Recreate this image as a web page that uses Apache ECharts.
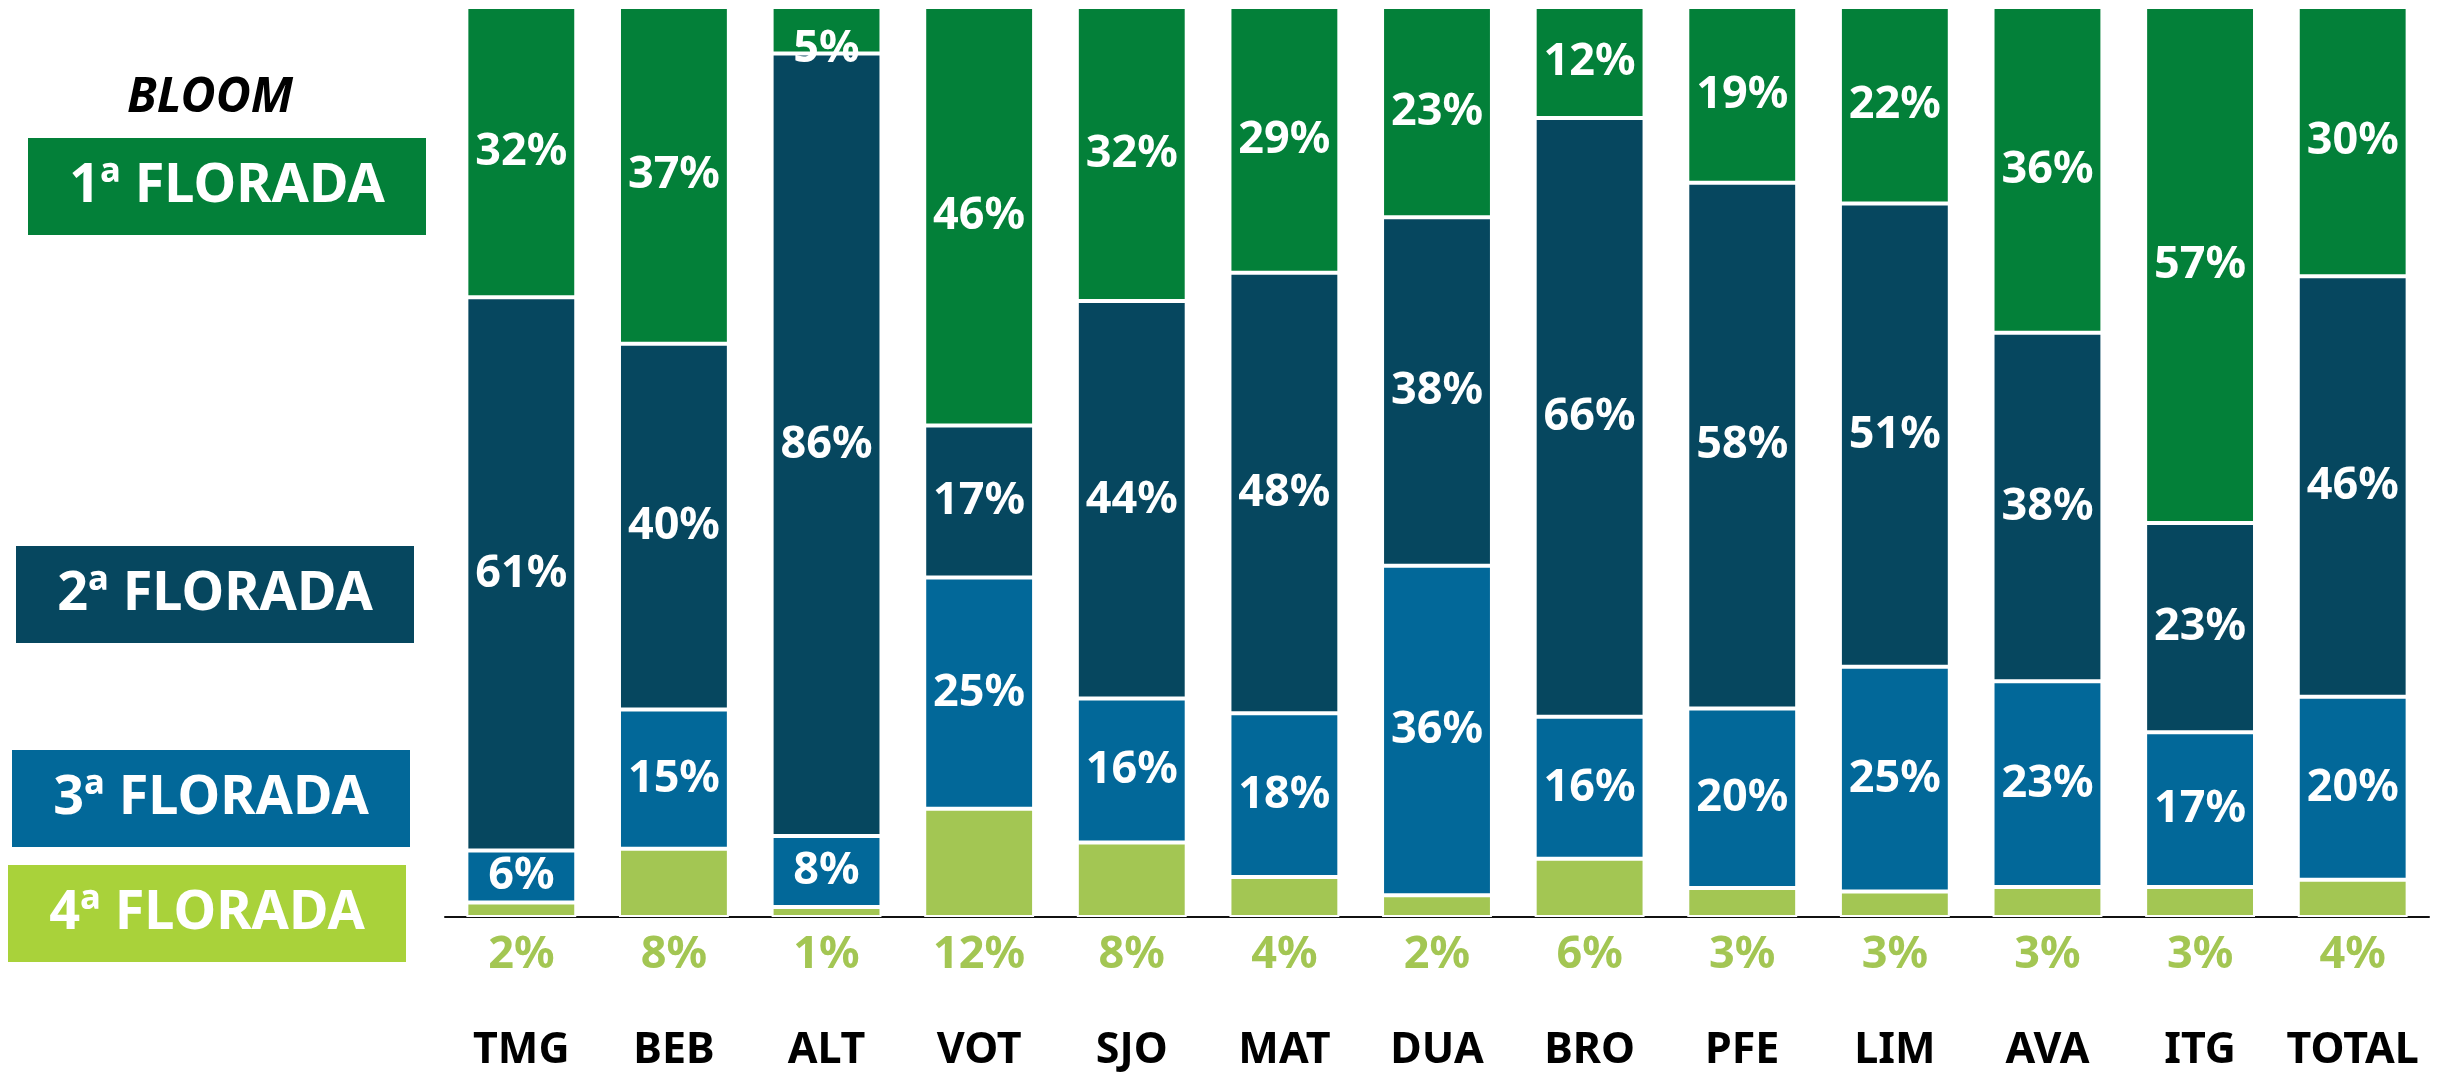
<!DOCTYPE html>
<html>
<head>
<meta charset="utf-8">
<style>html,body{margin:0;padding:0;background:#fff;}#c{width:2448px;height:1073px;}</style>
<script src="https://cdn.jsdelivr.net/npm/echarts@6/dist/echarts.min.js"></script>
</head>
<body>
<div id="c"></div>
<script>
const categories = ['TMG','BEB','ALT','VOT','SJO','MAT','DUA','BRO','PFE','LIM','AVA','ITG','TOTAL'];
const florada1 = [31.9, 37.0, 5.1, 46.0, 32.3, 29.2, 23.1, 12.2, 19.3, 21.6, 35.8, 56.7, 29.6];
const florada2 = [60.8, 40.2, 86.0, 16.7, 43.7, 48.4, 38.3, 65.8, 57.8, 50.9, 38.3, 23.0, 46.2];
const florada3 = [5.7, 15.3, 7.8, 25.4, 15.8, 18.0, 36.2, 15.6, 19.7, 24.7, 22.6, 17.0, 20.1];
const florada4 = [1.6, 7.5, 1.1, 11.9, 8.2, 4.4, 2.4, 6.4, 3.2, 2.8, 3.3, 3.3, 4.1];
const legendNames = ['1ª FLORADA','2ª FLORADA','3ª FLORADA','4ª FLORADA'];
const titleText = 'BLOOM';

const FONT = '"Noto Sans", "Open Sans", sans-serif';
const C1 = '#038039', C2 = '#06475f', C3 = '#026899', C4 = '#a3c653', C4box = '#a9d23a';

const chart = echarts.init(document.getElementById('c'), null, {renderer:'canvas'});

function lbl(extra){
  return Object.assign({
    show:true, position:'inside', color:'#fff', fontFamily:FONT, fontWeight:'bold', fontSize:45,
    formatter: p => Math.round(p.value) + '%'
  }, extra||{});
}
const item = c => ({color:c, borderColor:'#fff', borderWidth:2});

const s1data = florada1.map((v,i) => i===2 ? {value:v, label:{offset:[0,19]}} : v);

chart.setOption({
  animation:false,
  grid:{left:445, right:19, top:7, bottom:156},
  xAxis:{
    type:'category', data:categories,
    axisLine:{lineStyle:{color:'#111', width:2}},
    axisTick:{show:false},
    axisLabel:{interval:0, hideOverlap:false, color:'#000', fontFamily:FONT, fontWeight:'bold', fontSize:43, margin:112}
  },
  yAxis:{type:'value', min:0, max:100, show:false, splitLine:{show:false}},
  series:[
    {name:legendNames[3], type:'bar', stack:'s', data:florada4, barCategoryGap:'28%', itemStyle:item(C4),
     label:lbl({position:'bottom', distance:16, color:C4})},
    {name:legendNames[2], type:'bar', stack:'s', data:florada3, itemStyle:item(C3), label:lbl()},
    {name:legendNames[1], type:'bar', stack:'s', data:florada2, itemStyle:item(C2), label:lbl()},
    {name:legendNames[0], type:'bar', stack:'s', data:s1data, itemStyle:item(C1), label:lbl()}
  ],
  graphic:[
    {type:'text', style:{text:titleText, x:210, y:98, textAlign:'center', textVerticalAlign:'middle', fill:'#000', font:'italic bold 48px '+FONT}},
    {type:'rect', shape:{x:28, y:138, width:398, height:97}, style:{fill:C1}},
    {type:'text', style:{text:legendNames[0], x:227, y:187, textAlign:'center', textVerticalAlign:'middle', fill:'#fff', font:'bold 54px '+FONT}},
    {type:'rect', shape:{x:16, y:546, width:398, height:97}, style:{fill:C2}},
    {type:'text', style:{text:legendNames[1], x:215, y:595, textAlign:'center', textVerticalAlign:'middle', fill:'#fff', font:'bold 54px '+FONT}},
    {type:'rect', shape:{x:12, y:750, width:398, height:97}, style:{fill:C3}},
    {type:'text', style:{text:legendNames[2], x:211, y:799, textAlign:'center', textVerticalAlign:'middle', fill:'#fff', font:'bold 54px '+FONT}},
    {type:'rect', shape:{x:8, y:865, width:398, height:97}, style:{fill:C4box}},
    {type:'text', style:{text:legendNames[3], x:207, y:914, textAlign:'center', textVerticalAlign:'middle', fill:'#fff', font:'bold 54px '+FONT}}
  ]
});
</script>
</body>
</html>
